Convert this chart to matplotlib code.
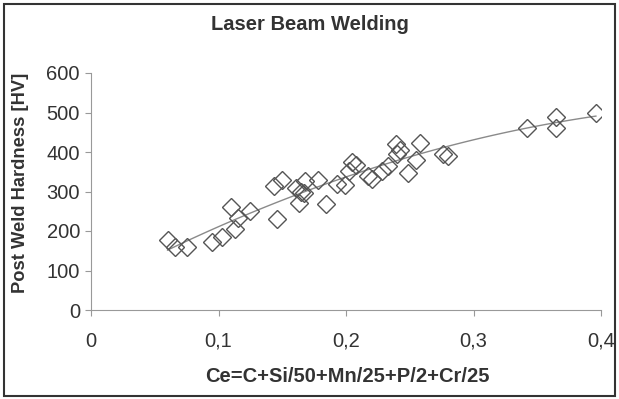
import numpy as np
import matplotlib.pyplot as plt
from matplotlib.patches import Rectangle

plt.rcParams['font.family'] = ['Liberation Sans', 'DejaVu Sans']

# carbon equivalent and post weld hardness
ce = [0.060, 0.066, 0.075, 0.095, 0.103, 0.113, 0.115, 0.110, 0.125,
      0.146, 0.1435, 0.150, 0.161, 0.163, 0.165, 0.167, 0.168, 0.178,
      0.184, 0.193, 0.199, 0.202, 0.205, 0.208, 0.217, 0.220, 0.228,
      0.233, 0.240, 0.239, 0.242, 0.249, 0.255, 0.258, 0.276, 0.280,
      0.342, 0.365, 0.365, 0.396]
hv = [176, 160, 160, 172, 186, 204, 232, 260, 250,
      230, 313, 330, 308, 270, 300, 295, 326, 328,
      268, 320, 316, 352, 375, 368, 340, 332, 352,
      365, 395, 420, 405, 346, 380, 422, 395, 390,
      460, 488, 460, 500]

xticks = [0, 0.1, 0.2, 0.3, 0.4]
xticklabels = ['0', '0,1', '0,2', '0,3', '0,4']
yticks = [0, 100, 200, 300, 400, 500, 600]

fig = plt.figure(figsize=(6.19, 3.99), dpi=100)
ax = fig.add_axes([91 / 619, 1 - 310 / 399, 510 / 619, 237 / 399])

# polynomial trend line like a spreadsheet trendline
coef = np.polyfit(ce, hv, 2)
xs = np.linspace(min(ce), max(ce), 100)
ax.plot(xs, np.polyval(coef, xs), color='#8a8a8a', lw=1.0, zorder=1)

ax.plot(ce, hv, 'D', ms=9, mfc='none', mec='#555555', mew=1.0, zorder=2)

ax.set_xlim(0, 0.4)
ax.set_ylim(0, 600)
ax.set_xticks(xticks)
ax.set_xticklabels(xticklabels)
ax.set_yticks(yticks)
for s in ['top', 'right']:
    ax.spines[s].set_visible(False)
for s in ['left', 'bottom']:
    ax.spines[s].set_color('#999999')
ax.tick_params(colors='#999999', labelcolor='#333333', labelsize=14.5, length=4, pad=4)
ax.tick_params(axis='x', pad=11.5)

ax.set_xlabel('Ce=C+Si/50+Mn/25+P/2+Cr/25', fontsize=14.5, fontweight='bold', color='#333333')
ax.xaxis.set_label_coords(0.502, -0.24)
ax.set_ylabel('Post Weld Hardness [HV]', fontsize=13.2, fontweight='bold', color='#333333')
ax.yaxis.set_label_coords(-0.122, 0.535)
fig.text(0.5, 1 - 24 / 399, 'Laser Beam Welding', ha='center', va='center',
         fontsize=14.5, fontweight='bold', color='#333333')

fig.patches.append(Rectangle((4 / 619, 3 / 399), 611 / 619, 392 / 399, transform=fig.transFigure,
                             fill=False, ec='#333333', lw=1.5))

plt.savefig('out.png', dpi=100)
